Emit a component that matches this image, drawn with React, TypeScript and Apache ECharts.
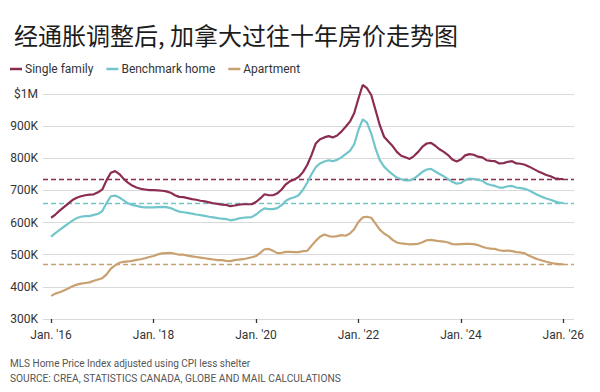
import React, { useEffect, useRef } from "react";
import * as echarts from "echarts";

const titleText = "经通胀调整后, 加拿大过往十年房价走势图";
const seriesNames = ["Single family", "Benchmark home", "Apartment"];
const seriesColors = ["#8b2c52", "#72c6cb", "#c9a06f"];

// Monthly values, Jan 2016 .. Jan 2026 (thousands of CAD, inflation adjusted)
const singleFamily = [
  615, 625, 637, 648, 659, 670, 677, 682, 685, 687,
  688, 694, 703, 732, 755, 760, 751, 736, 724, 715,
  709, 705, 703, 701, 701, 700, 699, 697, 693, 685,
  680, 679, 676, 673, 671, 668, 666, 663, 660, 658,
  656, 655, 651, 653, 656, 657, 657, 657, 664, 675,
  688, 685, 685, 691, 703, 719, 729, 734, 742, 757,
  779, 810, 846, 859, 865, 869, 865, 871, 883, 898,
  914, 940, 986, 1028, 1018, 997, 950, 903, 867, 852,
  838, 820, 808, 803, 798, 807, 820, 836, 846, 848,
  839, 828, 820, 810, 796, 790, 796, 809, 813, 811,
  805, 803, 794, 792, 791, 784, 785, 789, 791, 784,
  783, 780, 774, 767, 760, 754, 748, 744, 738, 736,
  735,
];
const benchmarkHome = [
  556, 567, 577, 587, 597, 606, 614, 618, 620, 620,
  624, 627, 636, 661, 682, 684, 678, 669, 660, 655,
  652, 649, 647, 647, 647, 648, 649, 648, 645, 639,
  634, 632, 630, 628, 625, 623, 621, 618, 616, 614,
  612, 611, 607, 609, 613, 615, 616, 617, 625, 636,
  644, 642, 642, 645, 654, 668, 675, 679, 685, 702,
  724, 750, 772, 784, 790, 794, 791, 795, 803, 813,
  823, 843, 888, 921, 911, 877, 831, 794, 774, 761,
  750, 740, 735, 731, 731, 737, 747, 758, 765, 767,
  759, 751, 744, 735, 727, 721, 723, 732, 737, 735,
  733, 730, 721, 717, 714, 709, 709, 713, 714, 709,
  707, 705, 700, 693, 686, 680, 675, 671, 666, 662,
  661,
];
const apartment = [
  372, 379, 383, 389, 395, 402, 407, 410, 412, 414,
  419, 423, 427, 439, 457, 467, 475, 478, 479, 481,
  484, 486, 489, 493, 496, 501, 504, 505, 506, 503,
  500, 500, 497, 495, 493, 491, 489, 487, 485, 483,
  483, 481, 480, 483, 485, 486, 489, 492, 496, 506,
  517, 518, 512, 505, 506, 509, 509, 508, 508, 511,
  512, 528, 543, 556, 563, 558, 556, 558, 561, 559,
  566, 579, 602, 616, 618, 615, 597, 578, 566, 558,
  546, 538, 535, 534, 532, 533, 534, 539, 545, 546,
  544, 542, 541, 538, 533, 532, 533, 534, 534, 533,
  530, 525, 521, 519, 518, 514, 512, 513, 511, 508,
  507, 504, 497, 491, 486, 482, 478, 475, 472, 471,
  470,
];
const seriesValues = [singleFamily, benchmarkHome, apartment];

// x ticks: month index since Jan 2016
const xTickValues = [0, 24, 48, 72, 96, 120];
const xTickLabels = ["Jan. '16", "Jan. '18", "Jan. '20", "Jan. '22", "Jan. '24", "Jan. '26"];
const yTickValues = [300, 400, 500, 600, 700, 800, 900, 1000];
const yTickLabels = ["300K", "400K", "500K", "600K", "700K", "800K", "900K", "$1M"];

const noteText = "MLS Home Price Index adjusted using CPI less shelter";
const sourceText = "SOURCE: CREA, STATISTICS CANADA, GLOBE AND MAIL CALCULATIONS";

const FONT = "Roboto, 'Noto Sans', sans-serif";

export default function App() {
  const ref = useRef<HTMLDivElement>(null);

  useEffect(() => {
    document.body.style.margin = "0";
    if (!ref.current) return;
    const chart = echarts.init(ref.current, null, { renderer: "svg" });

    const series = seriesNames.map((name, si) => {
      const vals = seriesValues[si];
      return {
        name,
        type: "line",
        data: vals.map((v, i) => [i, v]),
        showSymbol: false,
        symbol: "none",
        clip: false,
        lineStyle: { color: seriesColors[si], width: 2.2 },
        itemStyle: { color: seriesColors[si] },
        z: 10 - si,
        markLine: {
          silent: true,
          symbol: "none",
          label: { show: false },
          lineStyle: { color: seriesColors[si], width: 1.3, type: [5, 3] },
          data: [{ yAxis: vals[vals.length - 1] }],
          z: 1,
        },
      };
    });

    chart.setOption({
      animation: false,
      title: {
        text: titleText,
        left: 9,
        top: 17,
        textStyle: {
          fontFamily: "'Noto Sans CJK SC', sans-serif",
          fontSize: 24,
          fontWeight: "normal",
          color: "#1c1c1c",
        },
      },
      legend: {
        left: 5,
        top: 58,
        icon: "rect",
        itemWidth: 12,
        itemHeight: 2.5,
        itemGap: 13,
        textStyle: { fontFamily: FONT, fontSize: 12, color: "#333", padding: [0, 0, 0, -2] },
        data: seriesNames,
      },
      grid: { left: 43, right: 26, top: 94, bottom: 73 },
      xAxis: {
        type: "value",
        min: -1.9,
        max: 122.5,
        splitLine: { show: false },
        axisLine: { show: false },
        axisTick: {
          show: true,
          customValues: xTickValues,
          length: 4,
          inside: false,
          lineStyle: { color: "#333", width: 1.3 },
        },
        axisLabel: {
          customValues: xTickValues,
          margin: 10,
          fontFamily: FONT,
          fontSize: 12,
          color: "#333",
          formatter: (v: number) => xTickLabels[xTickValues.indexOf(Math.round(v))] ?? "",
        },
      },
      yAxis: {
        type: "value",
        min: 300,
        max: 1000,
        interval: 100,
        axisLine: { show: false },
        axisTick: { show: false },
        splitLine: { lineStyle: { color: "#d9d9d9", width: 1.2 } },
        axisLabel: {
          margin: 5,
          fontFamily: FONT,
          fontSize: 12,
          color: "#333",
          formatter: (v: number) => yTickLabels[yTickValues.indexOf(Math.round(v))] ?? "",
        },
      },
      graphic: [
        {
          type: "text",
          left: 10,
          top: 358,
          style: { text: noteText, fontFamily: FONT, fontSize: 10, fill: "#555" },
        },
        {
          type: "text",
          left: 10,
          top: 373,
          style: { text: sourceText, fontFamily: FONT, fontSize: 10.2, fill: "#555" },
        },
      ],
      series,
    });

    return () => chart.dispose();
  }, []);

  return <div ref={ref} style={{ width: 600, height: 392 }} />;
}
